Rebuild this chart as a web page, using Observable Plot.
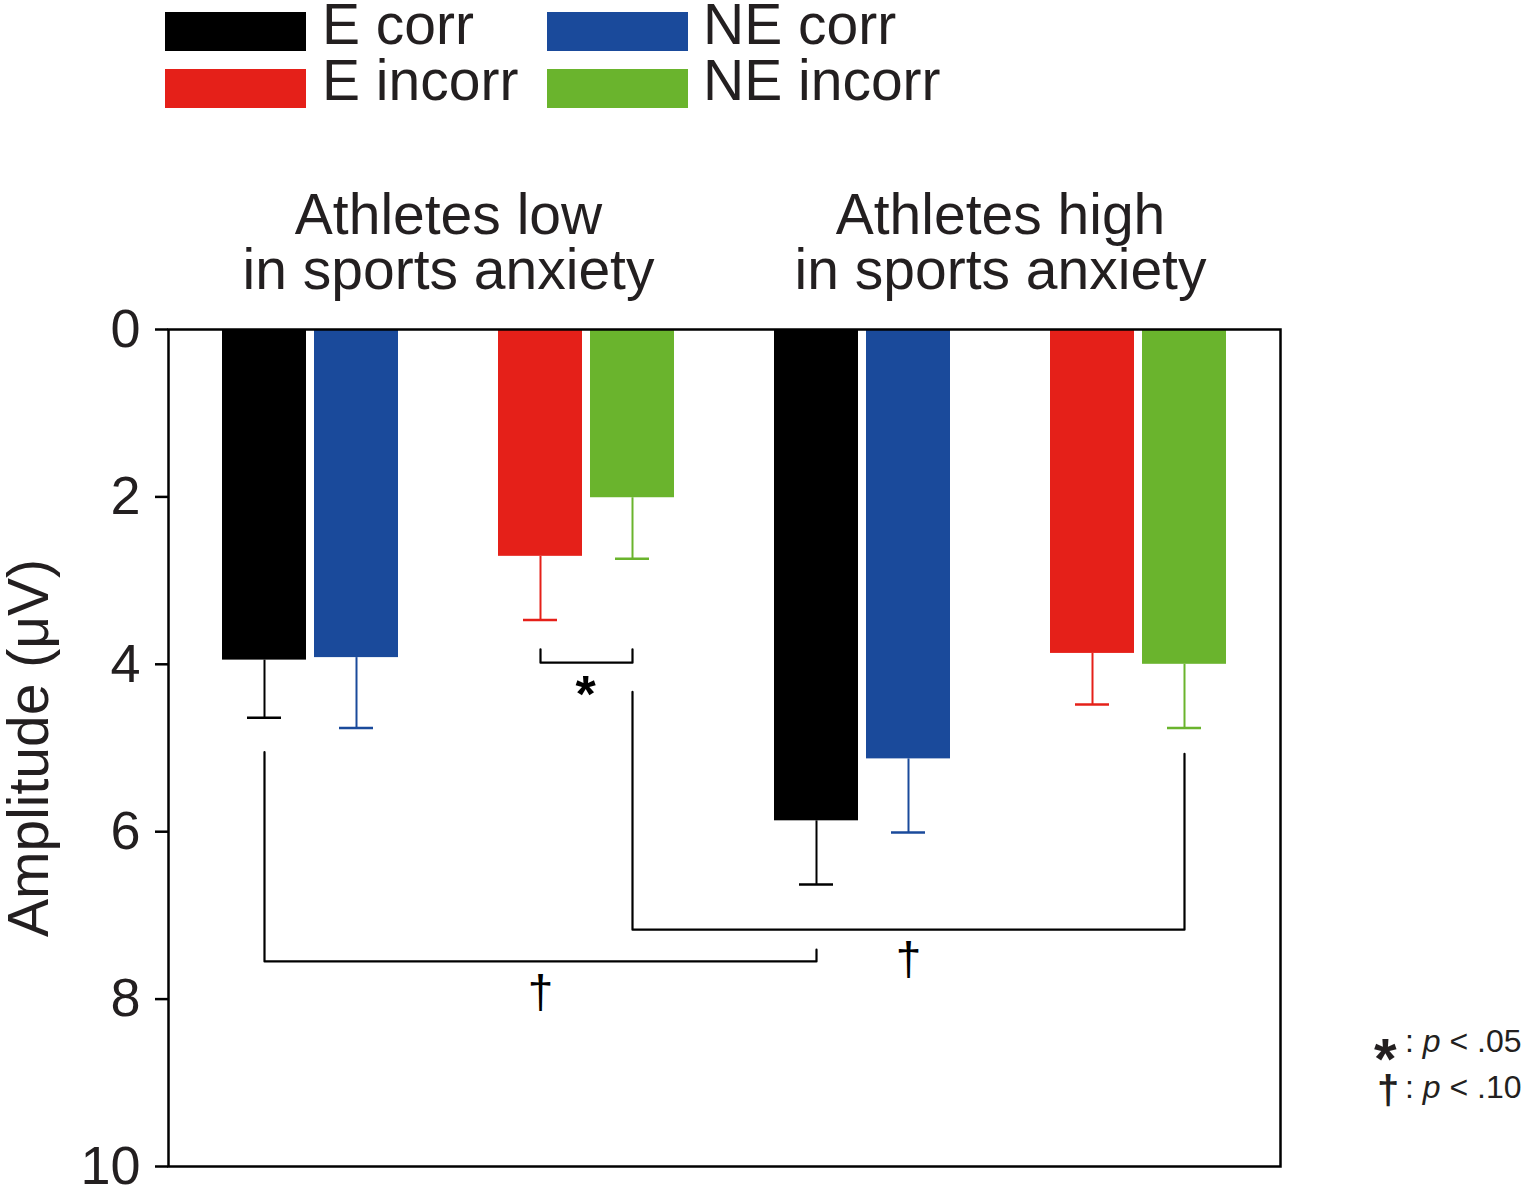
<!DOCTYPE html>
<html>
<head>
<meta charset="utf-8">
<script src="https://cdn.jsdelivr.net/npm/d3@7"></script>
<script src="https://cdn.jsdelivr.net/npm/@observablehq/plot@0.6"></script>
<style>
  body { margin: 0; background: #fff; font-family: "Liberation Sans", Arial, sans-serif; color: #231f20; }
  #wrap { position: relative; width: 1528px; height: 1185px; overflow: hidden; }
  #wrap svg { position: absolute; left: 0; top: 0; }
  .sw { position: absolute; width: 141px; height: 39px; }
  .lt { position: absolute; font-size: 57px; line-height: 57px; white-space: nowrap; }
  .fn { position: absolute; font-size: 32px; line-height: 32px; white-space: nowrap; }
  .sym { position: absolute; font-weight: bold; white-space: nowrap; }
</style>
</head>
<body>
<div id="wrap"></div>
<script>
// ---- data ----
const groups = ["low", "high"];
const groupTitles = ["Athletes low\nin sports anxiety", "Athletes high\nin sports anxiety"];
const conditions = ["E corr", "NE corr", "E incorr", "NE incorr"];
const lowMeans = [3.95, 3.92, 2.71, 2.01];
const lowErrors = [0.69, 0.84, 0.76, 0.73];
const highMeans = [5.87, 5.13, 3.87, 4.00];
const highErrors = [0.76, 0.88, 0.61, 0.76];
const yTicks = [0, 2, 4, 6, 8, 10];
const yLabel = "Amplitude (μV)";

// significance brackets
const bracketFrom = ["low|E incorr", "low|E corr", "low|NE incorr"];
const bracketTo = ["low|NE incorr", "high|E corr", "high|NE incorr"];
const bracketLeftTop = [3.82, 5.05, 4.33];
const bracketRightTop = [3.82, 7.41, 5.07];
const bracketBottom = [3.98, 7.55, 7.17];
const sigSymbols = ["*", "†", "†"];
const sigSlots = ["low|E incorr", "low|E incorr", "high|NE corr"];
const sigY = [4.37, 7.93, 7.54];

const footnotes = [["*", "p", " < .05"], ["†", "p", " < .10"]];

// ---- styles ----
const palette = ["#000000", "#1a4a9b", "#e52019", "#6ab42d"];

// ---- build tables ----
const means = [lowMeans, highMeans];
const errors = [lowErrors, highErrors];
const slots = [];
groups.forEach((g, gi) => {
  if (gi) slots.push("between");
  slots.push(`${g}|${conditions[0]}`, `${g}|${conditions[1]}`, `${g}|gap`, `${g}|${conditions[2]}`, `${g}|${conditions[3]}`);
});
const data = groups.flatMap((g, gi) => conditions.map((c, ci) => ({
  group: g, cond: c, slot: `${g}|${c}`, mean: means[gi][ci], se: errors[gi][ci]
})));
const titles = groups.map((g, gi) => ({slot: `${g}|gap`, title: groupTitles[gi]}));
const bracketPts = bracketFrom.flatMap((f, i) => [
  {id: i, slot: f, y: bracketLeftTop[i]},
  {id: i, slot: f, y: bracketBottom[i]},
  {id: i, slot: bracketTo[i], y: bracketBottom[i]},
  {id: i, slot: bracketTo[i], y: bracketRightTop[i]}
]);
const sigs = sigSymbols.map((s, i) => ({s, slot: sigSlots[i], y: sigY[i]}));

const chart = Plot.plot({
  width: 1528,
  height: 1185,
  marginTop: 329,
  marginBottom: 19,
  marginLeft: 168,
  marginRight: 248,
  style: {background: "transparent", color: "#231f20", fontFamily: "'Liberation Sans', Arial, sans-serif", overflow: "visible"},
  x: {type: "band", domain: slots, paddingInner: 0.09, paddingOuter: 0, insetLeft: 50.5, insetRight: 50.5, axis: null},
  y: {domain: [0, 10], reverse: true},
  color: {domain: conditions, range: palette},
  marks: [
    Plot.barY(data, {x: "slot", y: "mean", fill: "cond"}),
    Plot.ruleX(data, {x: "slot", y1: "mean", y2: d => d.mean + d.se, stroke: "cond", strokeWidth: 2}),
    Plot.tickY(data, {x: "slot", y: d => d.mean + d.se, stroke: "cond", strokeWidth: 2.5, insetLeft: 25, insetRight: 25}),
    Plot.line(bracketPts, {x: "slot", y: "y", z: "id", stroke: "black", strokeWidth: 2.2}),
    Plot.text(sigs.filter(d => d.s === "*"), {x: "slot", y: "y", text: "s", dx: 45, fontSize: 52, fontWeight: "bold", fill: "#000"}),
    Plot.text(sigs.filter(d => d.s !== "*"), {x: "slot", y: "y", text: "s", fontSize: 46, fill: "#000"}),
    Plot.text(titles, {x: "slot", text: "title", frameAnchor: "top", lineAnchor: "bottom", dy: -41, fontSize: 57, lineHeight: 0.965, fill: "#231f20"}),
    Plot.text([yLabel], {frameAnchor: "left", textAnchor: "middle", rotate: -90, dx: -139, fontSize: 57, fill: "#231f20"}),
    Plot.frame({stroke: "black", strokeWidth: 2.5}),
    Plot.axisY({ticks: yTicks, tickSize: 13, tickPadding: 15, fontSize: 54, label: null, strokeWidth: 2.5, stroke: "black", tickFormat: d => String(d)})
  ]
});

const wrap = document.getElementById("wrap");
wrap.appendChild(chart);

// ---- legend (HTML) ----
const swPos = [[165, 12], [547, 12], [165, 69], [547, 69]];
const txPos = [[322, -4], [703, -4], [322, 52], [703, 52]];
conditions.forEach((c, i) => {
  const sw = document.createElement("div");
  sw.className = "sw";
  sw.style.left = swPos[i][0] + "px";
  sw.style.top = swPos[i][1] + "px";
  sw.style.background = palette[i];
  wrap.appendChild(sw);
  const t = document.createElement("div");
  t.className = "lt";
  t.style.left = txPos[i][0] + "px";
  t.style.top = txPos[i][1] + "px";
  t.textContent = c;
  wrap.appendChild(t);
});

// ---- footnote ----
const fnTop = [1025, 1071];
const symStyle = [{size: 58, left: 1374, top: 1030}, {size: 40, left: 1377, top: 1070}];
footnotes.forEach((f, i) => {
  const s = document.createElement("div");
  s.className = "sym";
  s.style.fontSize = symStyle[i].size + "px";
  s.style.lineHeight = symStyle[i].size + "px";
  s.style.left = symStyle[i].left + "px";
  s.style.top = symStyle[i].top + "px";
  s.textContent = f[0];
  wrap.appendChild(s);
  const t = document.createElement("div");
  t.className = "fn";
  t.style.left = "1405px";
  t.style.top = fnTop[i] + "px";
  t.innerHTML = ": <i>" + f[1] + "</i>" + f[2].replace("<", "&lt;");
  wrap.appendChild(t);
});
</script>
</body>
</html>
